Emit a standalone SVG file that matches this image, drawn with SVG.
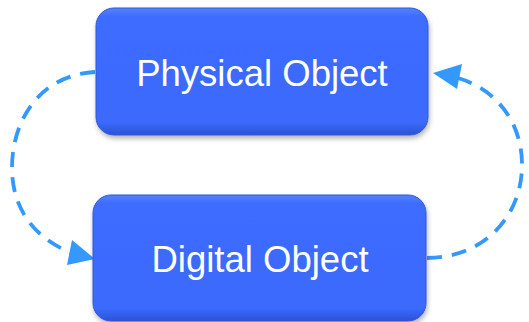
<svg xmlns="http://www.w3.org/2000/svg" width="529" height="322" viewBox="0 0 529 322">
  <defs>
    <linearGradient id="boxGrad" x1="0" y1="0" x2="0" y2="1">
      <stop offset="0" stop-color="#5582ff"/>
      <stop offset="0.07" stop-color="#3c6cff"/>
      <stop offset="0.9" stop-color="#3a6afc"/>
      <stop offset="1" stop-color="#2c52d6"/>
    </linearGradient>
    <filter id="shadow" x="-10%" y="-10%" width="120%" height="130%">
      <feDropShadow dx="1" dy="3" stdDeviation="2.5" flood-color="#000" flood-opacity="0.3"/>
    </filter>
  </defs>
  <style>
    .box { fill: url(#boxGrad); stroke: #2f58d8; stroke-width: 1; filter: url(#shadow); }
    .label { font-family: "Liberation Sans", Arial, sans-serif; font-size: 36.5px; fill: #ffffff; text-anchor: middle; }
    .conn { fill: none; stroke: #3399ff; stroke-width: 3.8; stroke-dasharray: 15 10; }
    .head { fill: #3399ff; }
  </style>
  <g id="connectors">
    <path class="conn" d="M95,72 C 40,75 12,120 12,168 C 12,212 38,240 72,253"/>
    <polygon class="head" points="95,259 72,240 67,265"/>
    <path class="conn" d="M427,258 C 482,258 522,218 522,165 C 522,118 492,88 458,78"/>
    <polygon class="head" points="433,73 462,64 457,89"/>
  </g>
  <g id="physical-object">
    <rect class="box" x="96" y="8" width="332" height="127" rx="18" ry="18"/>
    <text class="label" x="262" y="86">Physical Object</text>
  </g>
  <g id="digital-object">
    <rect class="box" x="93" y="195" width="333" height="126" rx="18" ry="18"/>
    <text class="label" x="260" y="272">Digital Object</text>
  </g>
</svg>
